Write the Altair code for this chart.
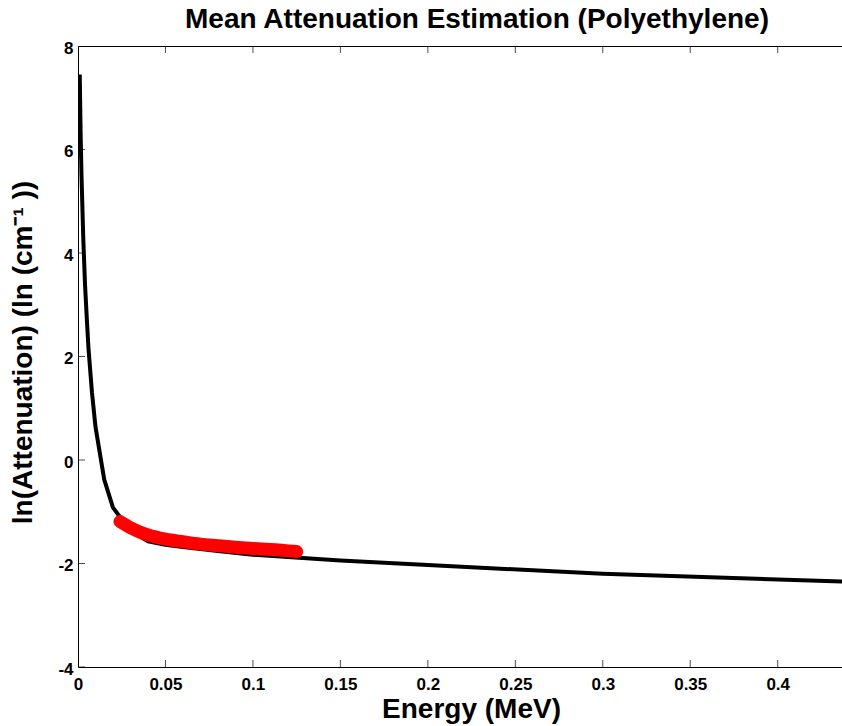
import altair as alt
import pandas as pd

# Black curve: ln(attenuation) vs energy (MeV)
energy = [0.001, 0.0015, 0.002, 0.003, 0.004, 0.005, 0.006, 0.008, 0.01, 0.015,
          0.02, 0.03, 0.04, 0.05, 0.06, 0.08, 0.1, 0.15, 0.2, 0.3, 0.4, 0.5]
ln_atten = [7.45, 6.30, 5.50, 4.30, 3.40, 2.75, 2.15, 1.30, 0.64, -0.38,
            -0.92, -1.37, -1.57, -1.64, -1.68, -1.76, -1.83, -1.94, -2.03, -2.20, -2.31, -2.41]

# Red estimate
est_energy = [0.024, 0.03, 0.04, 0.05, 0.06, 0.07, 0.08, 0.09, 0.1, 0.11, 0.125]
est_ln = [-1.19, -1.31, -1.45, -1.53, -1.58, -1.625, -1.655, -1.685, -1.71, -1.73, -1.77]

x_ticks = [0, 0.05, 0.1, 0.15, 0.2, 0.25, 0.3, 0.35, 0.4]
y_ticks = [-4, -2, 0, 2, 4, 6, 8]

FONT = "Liberation Sans"
W, H = 764, 621
XDOM = [0, 0.43676]
YDOM = [-4, 8]

curve = pd.DataFrame({"e": energy, "v": ln_atten})
est = pd.DataFrame({"e": est_energy, "v": est_ln})
xt = pd.DataFrame({"t": x_ticks})
yt = pd.DataFrame({"t": y_ticks})

xscale = alt.Scale(domain=XDOM, nice=False, zero=False)
yscale = alt.Scale(domain=YDOM, nice=False, zero=False)

xaxis = alt.Axis(values=x_ticks, grid=False, ticks=False,
                 labelExpr="replace(format(datum.value, '~g'), '\u2212', '-')",
                 domainColor="black", domainWidth=1,
                 labelFont=FONT, labelFontSize=17, labelFontWeight="bold", labelColor="black",
                 labelPadding=9, labelFlush=False, labelOverlap=False,
                 title="Energy (MeV)", titleFont=FONT, titleFontSize=28, titleFontWeight="bold",
                 titleColor="black", titleX=393, titleY=50, titleBaseline="alphabetic",
                 titleAlign="center")
yaxis = alt.Axis(values=y_ticks, grid=False, ticks=False,
                 labelExpr="replace(format(datum.value, '~g'), '\u2212', '-')",
                 domainColor="black", domainWidth=1,
                 labelFont=FONT, labelFontSize=17, labelFontWeight="bold", labelColor="black",
                 labelPadding=5, labelFlush=False, labelOverlap=False, labelOffset=2,
                 title="ln(Attenuation) (ln (cm⁻¹ ))", titleFont=FONT, titleFontSize=28,
                 titleFontWeight="bold", titleColor="black", titleX=-47, titleY=306,
                 titleBaseline="alphabetic", titleAlign="center", titleAngle=270)

line = alt.Chart(curve).mark_line(color="black", strokeWidth=4, clip=True,
                                  strokeJoin="round").encode(
    x=alt.X("e:Q", scale=xscale, axis=xaxis),
    y=alt.Y("v:Q", scale=yscale, axis=yaxis),
)

red = alt.Chart(est).mark_line(color="#ff0000", strokeWidth=13, strokeCap="round",
                               strokeJoin="round", interpolate="monotone").encode(
    x=alt.X("e:Q", scale=xscale),
    y=alt.Y("v:Q", scale=yscale),
)

top_border = alt.Chart(xt).mark_rule(color="black", strokeWidth=1).encode(
    x=alt.value(0), x2=alt.value(W), y=alt.value(0.5)
)

xticks_bottom = alt.Chart(xt).mark_tick(color="black", thickness=1, size=14, clip=True,
                                        orient="vertical").encode(
    x=alt.X("t:Q", scale=xscale),
    y=alt.value(H),
)
xticks_top = alt.Chart(xt).mark_tick(color="black", thickness=1, size=14, clip=True,
                                     orient="vertical").encode(
    x=alt.X("t:Q", scale=xscale),
    y=alt.value(0),
)
yticks_left = alt.Chart(yt).mark_tick(color="black", thickness=1, size=14, clip=True,
                                      orient="horizontal").encode(
    y=alt.Y("t:Q", scale=yscale),
    x=alt.value(0),
)

chart = alt.layer(line, red, top_border, xticks_bottom, xticks_top, yticks_left).properties(
    width=W, height=H,
    title=alt.TitleParams("Mean Attenuation Estimation (Polyethylene)", font=FONT, fontSize=28,
                          fontWeight="bold", color="black", anchor="middle", dx=17, dy=31,
                          baseline="alphabetic", offset=14),
    autosize=alt.AutoSizeParams(type="none"),
    padding={"left": 78, "top": 46, "right": 0, "bottom": 59},
).configure_view(stroke=None).configure(background="white")

chart.save("out.html", embed_options={"renderer": "svg", "actions": False})
